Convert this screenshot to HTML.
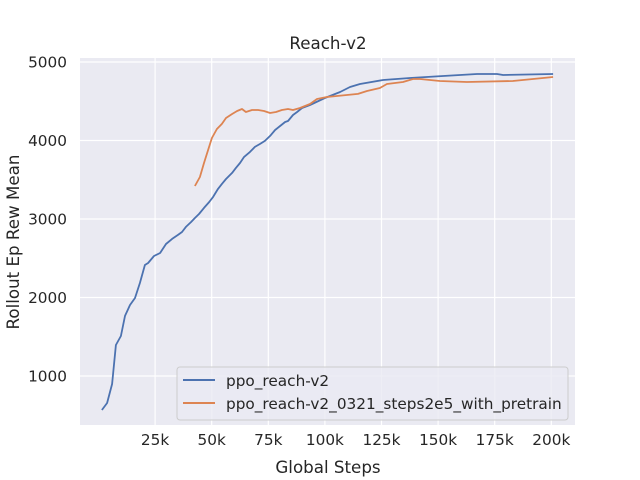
<!DOCTYPE html>
<html><head><meta charset="utf-8"><style>
body{margin:0;background:#fff;}
svg{display:block;font-family:"DejaVu Sans","Liberation Sans",sans-serif;}
</style></head><body>
<svg id="chart" width="640" height="480">
<rect x="80" y="58" width="495" height="367" fill="#eaeaf2"/>
<g id="grid"></g>
<g id="ticks"></g>
<g id="lines"></g>
<text x="328" y="49" font-size="16.7" text-anchor="middle" fill="#262626">Reach-v2</text>
<text x="328" y="473" font-size="16.7" text-anchor="middle" fill="#262626">Global Steps</text>
<text transform="translate(19,242) rotate(-90)" font-size="16.7" text-anchor="middle" fill="#262626">Rollout Ep Rew Mean</text>
<g>
<rect x="177" y="367" width="391" height="53" rx="3" fill="#eaeaf2" fill-opacity="0.8" stroke="#cccccc"/>
<line x1="183" y1="380" x2="215" y2="380" stroke="#4c72b0" stroke-width="2"/>
<text x="226" y="386" font-size="15.3" fill="#262626">ppo_reach-v2</text>
<line x1="183" y1="403" x2="215" y2="403" stroke="#dd8452" stroke-width="2"/>
<text x="226" y="409" font-size="15.3" fill="#262626">ppo_reach-v2_0321_steps2e5_with_pretrain</text>
</g>
</svg>
<script>
const xTicks=[25,50,75,100,125,150,175,200];
const xTickLabels=["25k","50k","75k","100k","125k","150k","175k","200k"];
const yTicks=[1000,2000,3000,4000,5000];
const blueX=[1.5,3.8,6,7.7,9.9,11.7,13.9,16.1,18.3,20.5,21.9,24.5,27.2,29.8,32.5,35.1,36.9,38.6,40.9,42.6,44.4,46.6,48.9,50.6,52.8,54.5,56.3,59,60.7,62.5,64.3,66.9,69.1,71.3,73.5,75.8,78,80.2,82.4,83.7,85.9,87.7,89.9,93.4,100,106.7,111.1,115.5,125.7,137.6,152.2,167.2,176,178.7,200.8];
const blueY=[567,656,898,1395,1510,1765,1905,1994,2185,2414,2440,2529,2567,2682,2746,2797,2835,2899,2962,3013,3064,3141,3217,3281,3383,3447,3510,3587,3651,3714,3791,3855,3918,3956,3995,4058,4134,4185,4236,4249,4325,4363,4414,4452,4542,4618,4682,4720,4771,4796,4822,4847,4847,4835,4847];
const orangeX=[42.6,44.8,46.6,48.4,50.1,52.3,54.5,56.3,59,61.2,63.4,65.1,67.8,70.5,73.1,75.8,78.4,81,83.7,85.9,89,93.4,96.5,100.9,114.6,118.6,124.3,127.4,134.5,138.9,142,150.8,162.7,183,191.9,200.8];
const orangeY=[3421,3535,3714,3879,4032,4147,4211,4287,4338,4376,4401,4363,4389,4389,4376,4350,4363,4389,4401,4389,4414,4465,4529,4554,4593,4631,4669,4720,4745,4784,4784,4758,4745,4758,4784,4809];
const L=80,R=575,T=58,B=425;
function sx(k){return 98.5+k*2.264;}
function sy(v){return 454.5-v*0.0785;}
const NS="http://www.w3.org/2000/svg";
function mk(t,a,p){const e=document.createElementNS(NS,t);for(const k in a)e.setAttribute(k,a[k]);p.appendChild(e);return e;}
const grid=document.getElementById('grid'),ticks=document.getElementById('ticks'),lines=document.getElementById('lines');
xTicks.forEach((t,i)=>{
 const g=mk('line',{x1:sx(t),x2:sx(t),y1:T,y2:B,stroke:'#fff','stroke-width':1.2},grid);
 
 
 const tx=mk('text',{x:sx(t),y:B+20,'font-size':15.3,'text-anchor':'middle',fill:'#262626'},ticks);
 tx.textContent=xTickLabels[i];
 
 
});
yTicks.forEach(t=>{
 const g=mk('line',{x1:L,x2:R,y1:sy(t),y2:sy(t),stroke:'#fff','stroke-width':1.2},grid);
 
 
 const tx=mk('text',{x:L-13,y:sy(t)+5.5,'font-size':15.3,'text-anchor':'end',fill:'#262626'},ticks);
 tx.textContent=String(t);
 
 
});
function path(xs,ys,c,name){
 const d=xs.map((x,i)=>(i?'L':'M')+sx(x).toFixed(1)+','+sy(ys[i]).toFixed(1)).join('');
 const p=mk('path',{d:d,fill:'none',stroke:c,'stroke-width':1.8,'stroke-linejoin':'round'},lines);
 
 
}
path(blueX,blueY,'#4c72b0','series-ppo-reach-v2');
path(orangeX,orangeY,'#dd8452','series-ppo-reach-v2-pretrain');
</script>
</body></html>
